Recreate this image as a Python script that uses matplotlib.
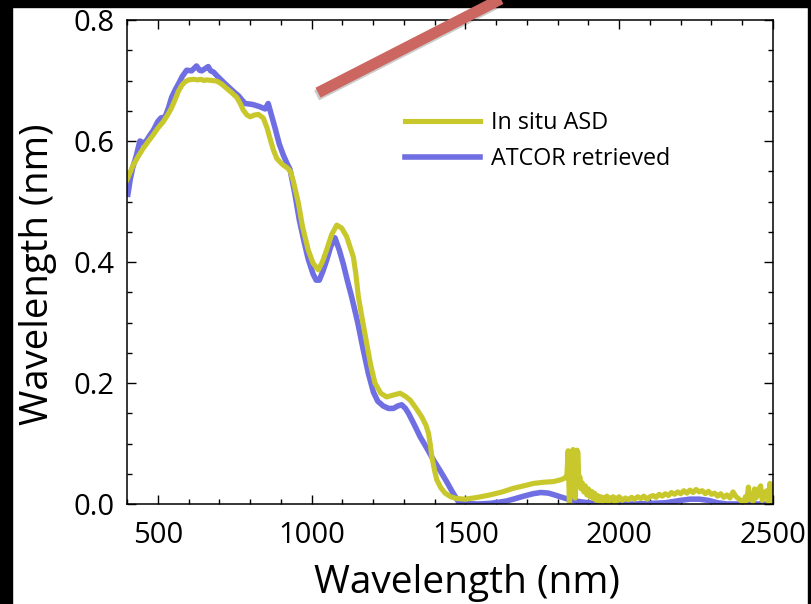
import numpy as np
import matplotlib
matplotlib.use("Agg")
import matplotlib.pyplot as plt
from matplotlib.lines import Line2D
from matplotlib.patches import Rectangle
from matplotlib.ticker import MultipleLocator
import matplotlib.patheffects as pe

plt.rcParams['font.family'] = ['Open Sans', 'DejaVu Sans']

# ATCOR retrieved reflectance
atcor_wl = [403, 410, 418, 430, 442, 452, 460, 475, 486, 500, 510, 524, 535, 545, 557,
            567, 580, 594, 610, 626, 636, 643, 655, 664, 672, 681, 692, 702, 718, 735,
            750, 762, 775, 784, 800, 811, 830, 849, 859, 870, 881, 895, 908, 920, 930,
            946, 960, 975, 989, 1005, 1015, 1025, 1037, 1049, 1062, 1076, 1090, 1103,
            1116, 1130, 1150, 1168, 1185, 1201, 1215, 1233, 1250, 1266, 1280, 1293,
            1305, 1315, 1335, 1353, 1375, 1396, 1418, 1439, 1460, 1477, 1500, 1540,
            1580, 1610, 1634, 1656, 1690, 1720, 1745, 1770, 1790, 1808, 1840, 1870,
            1900, 1950, 2000, 2050, 2100, 2150, 2200, 2230, 2260, 2290, 2320, 2350,
            2400, 2450, 2500]
atcor_val = [0.512, 0.535, 0.555, 0.575, 0.600, 0.597, 0.598, 0.610, 0.618, 0.632,
             0.638, 0.640, 0.655, 0.672, 0.685, 0.694, 0.707, 0.717, 0.716, 0.724,
             0.717, 0.716, 0.720, 0.723, 0.716, 0.714, 0.708, 0.703, 0.695, 0.687,
             0.680, 0.675, 0.667, 0.662, 0.661, 0.660, 0.657, 0.653, 0.662, 0.642,
             0.622, 0.595, 0.577, 0.563, 0.553, 0.512, 0.470, 0.435, 0.405, 0.380,
             0.370, 0.370, 0.385, 0.403, 0.425, 0.440, 0.420, 0.397, 0.370, 0.343,
             0.300, 0.255, 0.215, 0.185, 0.170, 0.162, 0.158, 0.158, 0.162, 0.164,
             0.158, 0.150, 0.130, 0.111, 0.092, 0.073, 0.055, 0.037, 0.018, 0.004,
             0.001, 0.000, 0.001, 0.003, 0.005, 0.008, 0.013, 0.017, 0.019, 0.018,
             0.015, 0.012, 0.007, 0.004, 0.002, 0.001, 0.000, 0.000, 0.001, 0.002,
             0.006, 0.008, 0.008, 0.006, 0.002, 0.000, 0.000, 0.000, 0.000]

# In situ ASD reflectance
asd_wl = [400, 410, 420, 437, 453, 470, 485, 500, 518, 532, 545, 556, 567, 578, 589,
          600, 616, 630, 640, 650, 659, 675, 692, 708, 724, 740, 757, 768, 778, 790,
          800, 815, 827, 843, 855, 865, 876, 887, 898, 908, 920, 930, 940, 946, 957,
          970, 989, 1005, 1022, 1035, 1049, 1065, 1082, 1098, 1114, 1125, 1136, 1144,
          1152, 1165, 1179, 1192, 1206, 1225, 1244, 1265, 1288, 1305, 1320, 1340,
          1358, 1372, 1380, 1386, 1391, 1400, 1407, 1420, 1434, 1452, 1472, 1500,
          1540, 1580, 1620, 1656, 1690, 1721, 1755, 1786, 1810, 1824, 1830,
          1834, 1838, 1842, 1846, 1850, 1854, 1857, 1860, 1863, 1866, 1869, 1872,
          1876, 1880, 1885, 1890, 1895,
          1900, 1905, 1910, 1915, 1920, 1925, 1930, 1935, 1940, 1945, 1950, 1955,
          1960, 1965, 1970, 1975, 1980, 1985, 1990, 1995, 2000, 2010, 2020, 2030,
          2040, 2050, 2060, 2070, 2080, 2090, 2100, 2110, 2120, 2130, 2140, 2150,
          2160, 2170, 2180, 2190, 2200, 2210, 2220, 2230, 2240, 2250, 2260, 2270,
          2280, 2290, 2300, 2310, 2320, 2330, 2340, 2350, 2360, 2370, 2380, 2390,
          2400, 2405, 2410, 2415, 2420, 2425, 2430, 2435, 2440, 2445, 2450, 2455,
          2460, 2465, 2470, 2475, 2480, 2485, 2490, 2495, 2500]
asd_val = [0.536, 0.548, 0.560, 0.575, 0.588, 0.600, 0.610, 0.621, 0.632, 0.643,
           0.655, 0.668, 0.682, 0.692, 0.698, 0.701, 0.702, 0.701, 0.702, 0.700,
           0.701, 0.700, 0.699, 0.694, 0.687, 0.680, 0.672, 0.662, 0.651, 0.643,
           0.640, 0.643, 0.644, 0.638, 0.622, 0.604, 0.585, 0.571, 0.565, 0.560,
           0.556, 0.551, 0.535, 0.522, 0.498, 0.460, 0.420, 0.398, 0.387, 0.400,
           0.420, 0.445, 0.461, 0.456, 0.442, 0.425, 0.408, 0.380, 0.343, 0.305,
           0.266, 0.230, 0.200, 0.183, 0.177, 0.180, 0.183, 0.178, 0.172, 0.158,
           0.144, 0.130, 0.117, 0.098, 0.078, 0.055, 0.040, 0.027, 0.018, 0.012,
           0.009, 0.008, 0.011, 0.015, 0.020, 0.026, 0.030, 0.034, 0.036, 0.037,
           0.040, 0.043, 0.048,
           0.088, 0.000, 0.020, 0.085, 0.090, 0.088, 0.010, 0.040, 0.089, 0.085,
           0.030, 0.045, 0.025, 0.035, 0.020, 0.030, 0.015,
           0.025, 0.012, 0.021, 0.009, 0.018, 0.006, 0.014, 0.005, 0.012, 0.004,
           0.011, 0.006, 0.013, 0.004, 0.010, 0.007, 0.012, 0.003, 0.010, 0.006,
           0.012, 0.006, 0.010, 0.007, 0.011, 0.008, 0.012, 0.009, 0.013, 0.008,
           0.012, 0.014, 0.011, 0.016, 0.013, 0.017, 0.014, 0.019, 0.016, 0.020,
           0.017, 0.022, 0.018, 0.023, 0.019, 0.024, 0.020, 0.022, 0.017, 0.021,
           0.016, 0.018, 0.013, 0.017, 0.011, 0.015, 0.010, 0.020, 0.012, 0.008,
           0.004, 0.000, 0.012, 0.006, 0.028, 0.008, 0.010, 0.004, 0.025, 0.010,
           0.015, 0.026, 0.030, 0.006, 0.012, 0.020, 0.022, 0.004, 0.034, 0.005,
           0.008]

blue = '#6f6fe3'
yellow = '#c8c82c'

fig = plt.figure(figsize=(8.11, 6.04), dpi=100)
W, H = 811, 604
ax = fig.add_axes([127 / W, 1 - 504 / H, 646 / W, 484 / H])

l_atcor, = ax.plot(atcor_wl, atcor_val, color=blue, lw=4.0, solid_joinstyle='round')
l_asd, = ax.plot(asd_wl, asd_val, color=yellow, lw=3.7, solid_joinstyle='round')

ax.set_xlim(400, 2500)
ax.set_ylim(0, 0.8)
ax.xaxis.set_major_locator(MultipleLocator(500))
ax.xaxis.set_minor_locator(MultipleLocator(100))
ax.yaxis.set_major_locator(MultipleLocator(0.2))
ax.yaxis.set_minor_locator(MultipleLocator(0.05))
ax.tick_params(which='both', direction='in', top=True, right=True, width=1.0,
               labelsize=21)
ax.tick_params(which='major', length=6.5)
ax.tick_params(which='minor', length=3.5)
ax.tick_params(axis='x', which='major', pad=12)
ax.tick_params(axis='y', which='major', pad=9)
for s in ax.spines.values():
    s.set_linewidth(1.1)

fig.text(467 / W, 1 - 593 / H, 'Wavelength (nm)', fontsize=28,
         ha='center', va='baseline')
fig.text(48 / W, 1 - 274 / H, 'Wavelength (nm)', fontsize=27.5, rotation=90,
         rotation_mode='anchor', ha='center', va='baseline')

ax.legend([l_asd, l_atcor], ['In situ ASD', 'ATCOR retrieved'],
          loc='upper left', bbox_to_anchor=(405 / W, 1 - 111 / H),
          bbox_transform=fig.transFigure, frameon=False, fontsize=16.8,
          handlelength=3.2, handletextpad=0.48, labelspacing=0.5,
          borderpad=0, borderaxespad=0)

# dark frame around the panel
for x0, y0, w, h in [(0, 1 - 7 / H, 1, 7 / H), (0, 0, 12 / W, 1), (808 / W, 0, 3 / W, 1)]:
    fig.patches.append(Rectangle((x0, y0), w, h, transform=fig.transFigure,
                                 color='black', zorder=5))

# red pointer bar
bar = Line2D([318 / W, 512 / W], [1 - 92.7 / H, 1 + 6.7 / H], transform=fig.transFigure,
             color='#cc6660', lw=8, solid_capstyle='butt', zorder=10,
             path_effects=[pe.SimpleLineShadow(offset=(-1, -2), alpha=0.2),
                           pe.Normal()])
fig.lines.append(bar)

fig.savefig('out.png', dpi=100, facecolor='white')
